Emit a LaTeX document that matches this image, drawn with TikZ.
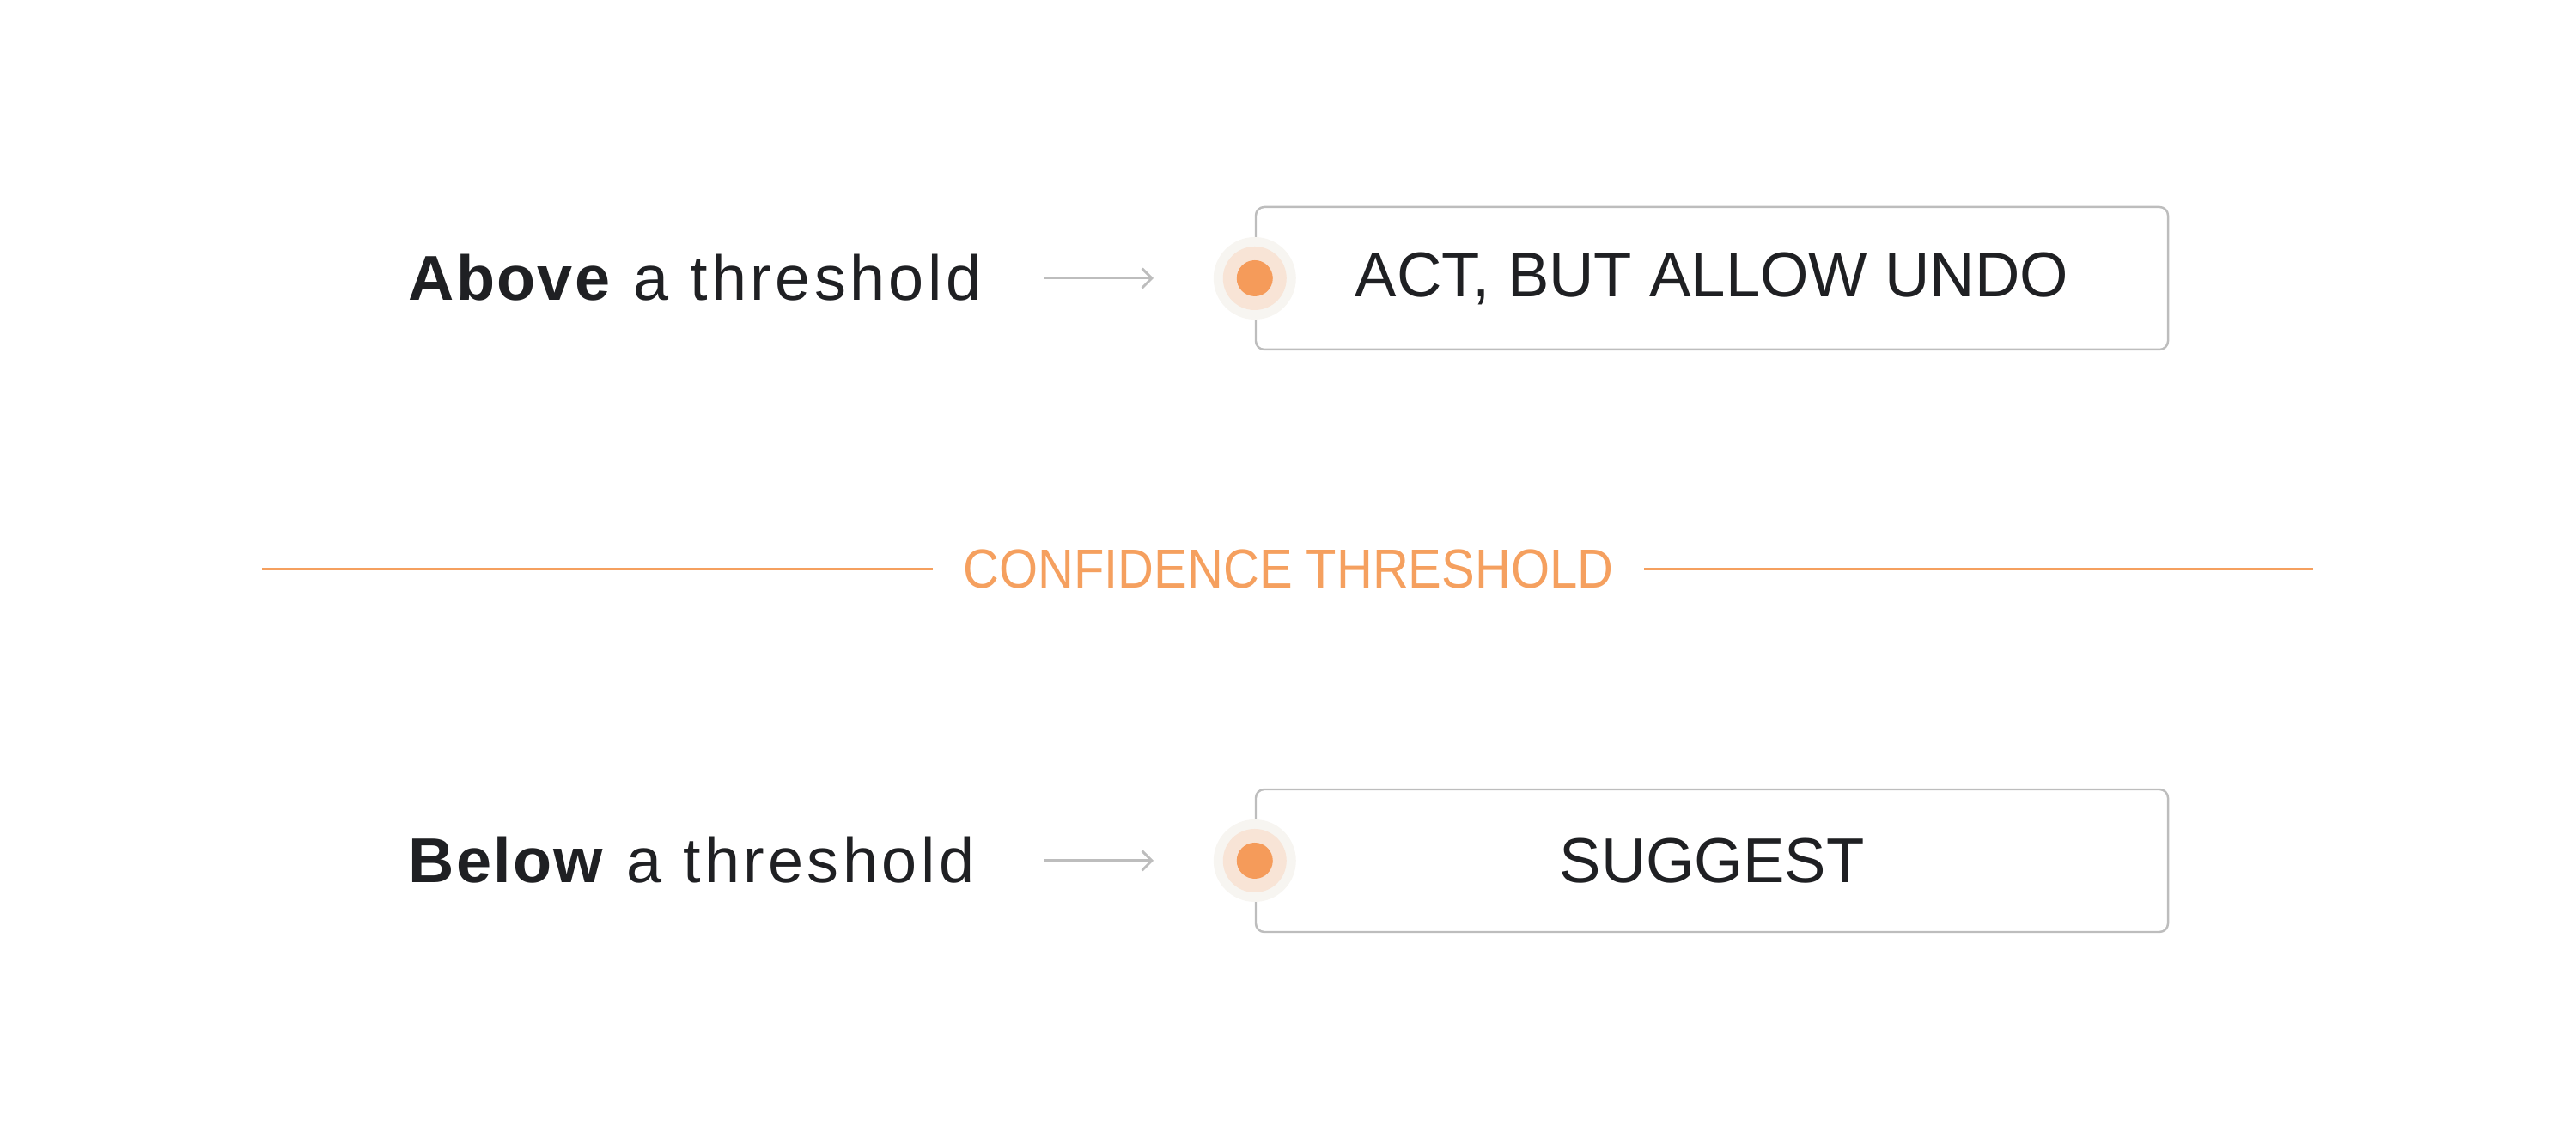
\documentclass[tikz,border=0pt]{standalone}
\usepackage{fontspec}
\setmainfont{Liberation Sans}
\newfontfamily\labelfont[LetterSpace=6, BoldFeatures={LetterSpace=3}]{Liberation Sans}
\newfontfamily\capsfont[FakeStretch=0.983]{Liberation Sans}
\newfontfamily\rulefont[FakeStretch=0.906]{Liberation Sans}
\usetikzlibrary{positioning, arrows.meta}
\definecolor{inkdark}{HTML}{1F2023}
\definecolor{dotorange}{HTML}{F59B5A}
\definecolor{peachring}{HTML}{F8E4D6}
\definecolor{creamring}{HTML}{F7F5F1}
\definecolor{bordergray}{HTML}{BDBDBD}
\definecolor{lineorange}{HTML}{F5A05F}
\tikzset{
rowlabel/.style={anchor=base west, inner sep=0pt, text=inkdark, font=\labelfont\fontsize{21}{25}\selectfont}, % text on the left of each row
actionbox/.style={draw=bordergray, line width=0.7pt, rounded corners=2.8pt, minimum width=10.62cm, minimum height=1.66cm, text=inkdark, font=\capsfont\fontsize{21}{25}\selectfont}, % the box with the action
pointer/.style={draw=bordergray, line width=0.85pt, -{Straight Barb[length=3.2pt, width=6.4pt]}}, % grey arrow between label and box
ring/.style={circle, draw=none, inner sep=0pt}, % one layer of the dot
thresholdline/.style={draw=lineorange, line width=0.85pt}, % the orange rule
}

\begin{document}
\begin{tikzpicture}
    \useasboundingbox (0,0) rectangle (29.99,13.26);
    % upper row
    \node[rowlabel] (above) at (4.75,9.76) {\textbf{Above} a threshold};
    \node[actionbox] (act) at (19.93,10.02) {ACT, BUT ALLOW UNDO};
    \node[ring, fill=creamring, minimum size=0.96cm] (actouter) at (act.west) {};
    \node[ring, fill=peachring, minimum size=0.74cm] (actmid) at (actouter) {};
    \node[ring, fill=dotorange, minimum size=0.42cm] (actdot) at (actouter) {};
    \coordinate (actfrom) at (12.16,10.02);
    \coordinate (actto) at (13.43,10.02);
    \draw[pointer] (actfrom) -- (actto);
    % threshold
    \node[text=lineorange, inner xsep=0.35cm, inner ysep=0pt, font=\rulefont\fontsize{18.2}{22}\selectfont] (threshold) at (15.00,6.63) {CONFIDENCE THRESHOLD};
    \coordinate (lineleft) at (3.05,6.63);
    \coordinate (lineright) at (26.93,6.63);
    \draw[thresholdline] (lineleft) -- (threshold.west |- lineleft);
    \draw[thresholdline] (threshold.east |- lineright) -- (lineright);
    % lower row
    \node[rowlabel] (below) at (4.75,2.98) {\textbf{Below} a threshold};
    \node[actionbox] (suggest) at (19.93,3.24) {SUGGEST};
    \node[ring, fill=creamring, minimum size=0.96cm] (sugouter) at (suggest.west) {};
    \node[ring, fill=peachring, minimum size=0.74cm] (sugmid) at (sugouter) {};
    \node[ring, fill=dotorange, minimum size=0.42cm] (sugdot) at (sugouter) {};
    \coordinate (sugfrom) at (12.16,3.24);
    \coordinate (sugto) at (13.43,3.24);
    \draw[pointer] (sugfrom) -- (sugto);
\end{tikzpicture}
\end{document}
